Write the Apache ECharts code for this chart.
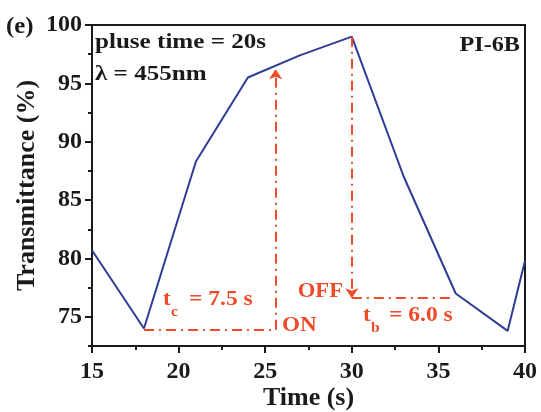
<!DOCTYPE html>
<html><head><meta charset="utf-8">
<script src="https://cdn.jsdelivr.net/npm/echarts@6/dist/echarts.min.js"></script>
<style>html,body{margin:0;padding:0;background:#fff}#c{width:541px;height:412px}</style>
</head><body><div id="c"></div>
<script>
// ---- data ----
const timeS = [15, 18, 21, 24, 27, 30, 33, 36, 39, 40];
const transmittance = [80.7, 74.0, 88.3, 95.5, 97.4, 99.0, 87.0, 77.0, 73.8, 79.8];
const yTickValues = [75, 80, 85, 90, 95, 100];
const yMinorValues = [72.5, 77.5, 82.5, 87.5, 92.5, 97.5];
const xTickValues = [15, 20, 25, 30, 35, 40];
// annotation guide lines (data coordinates)
const onStart = [18, 73.9], onCorner = [25.6, 73.9], onEnd = [25.6, 96.2];
const offStart = [30, 99.0], offCorner = [30, 76.6], offEnd = [35.7, 76.6];

const FONT = '"Liberation Serif", "Times New Roman", serif';
const RED = '#ee4b2b';
const BLUE = '#2e3c94';
const INK = '#1a1a1a';

const chart = echarts.init(document.getElementById('c'), null, {renderer: 'canvas'});
const dashDot = {color: RED, width: 2, type: [10, 5, 2, 5]};

function txt(x, y, s, size, fill, align, sx) {
  return {type: 'text', x: x, y: y, scaleX: sx || 1,
    style: {text: s, font: 'bold ' + size + 'px ' + FONT, fill: fill, textAlign: align || 'left', textVerticalAlign: 'middle'}};
}

const option = {
  animation: false,
  backgroundColor: '#fff',
  grid: {left: 92, right: 16, top: 25, bottom: 66, outerBoundsMode: 'none', containLabel: false,
    show: true, borderColor: INK, borderWidth: 2, backgroundColor: 'transparent'},
  xAxis: [{
    type: 'value', min: 15, max: 40, interval: 5,
    axisLine: {show: true, lineStyle: {color: INK, width: 2}},
    axisTick: {show: true, length: 7, lineStyle: {color: INK, width: 2}, customValues: xTickValues},
    minorTick: {show: true, splitNumber: 2, length: 4, lineStyle: {color: INK, width: 2}},
    splitLine: {show: false},
    axisLabel: {customValues: xTickValues, color: INK, fontFamily: FONT, fontWeight: 'bold', fontSize: 24, margin: 14},
    name: 'Time (s)', nameLocation: 'middle', nameGap: 39, nameMoveOverlap: false,
    nameTextStyle: {color: INK, fontFamily: FONT, fontWeight: 'bold', fontSize: 26}
  }],
  yAxis: [{
    type: 'value', min: 72.5, max: 100,
    axisLine: {show: true, lineStyle: {color: INK, width: 2}},
    axisTick: {show: true, length: 7, lineStyle: {color: INK, width: 2}, customValues: yTickValues},
    splitLine: {show: false},
    axisLabel: {customValues: yTickValues, color: INK, fontFamily: FONT, fontWeight: 'bold', fontSize: 24, margin: 10},
    name: 'Transmittance (%)', nameLocation: 'middle', nameGap: 52, nameMoveOverlap: false,
    nameTextStyle: {color: INK, fontFamily: FONT, fontWeight: 'bold', fontSize: 26}
  }, {
    type: 'value', min: 72.5, max: 100, position: 'left',
    axisLine: {show: false},
    axisTick: {show: true, length: 4, lineStyle: {color: INK, width: 2}, customValues: yMinorValues},
    axisLabel: {show: false, customValues: yMinorValues},
    splitLine: {show: false}
  }],
  series: [{
    type: 'line',
    data: timeS.map((t, i) => [t, transmittance[i]]),
    symbol: 'none',
    lineStyle: {color: BLUE, width: 2},
    clip: true,
    z: 3
  }, {
    type: 'line', data: [], symbol: 'none', z: 4,
    markLine: {
      silent: true, animation: false,
      label: {show: false},
      lineStyle: dashDot,
      symbol: ['none', 'none'],
      data: [
        [{coord: onStart}, {coord: onCorner}],
        [{coord: onCorner, symbol: 'none'}, {coord: onEnd, symbol: 'arrow', symbolSize: 10}],
        [{coord: offStart, symbol: 'none'}, {coord: offCorner, symbol: 'arrow', symbolSize: 10}],
        [{coord: offCorner}, {coord: offEnd}]
      ]
    }
  }],
  graphic: [
    txt(6, 27, '(e)', 23, INK, 'left', 1.08),
    txt(95, 42.5, 'pluse time = 20s', 22, INK, 'left', 1.14),
    txt(95, 74.5, 'λ = 455nm', 22, INK, 'left', 1.14),
    txt(520, 45.5, 'PI-6B', 22, INK, 'right', 1.1),
    txt(163, 299.5, 't', 22, RED, 'left', 1.05),
    txt(171, 312, 'c', 15, RED, 'left', 1.05),
    txt(189, 299.5, '= 7.5 s', 22, RED, 'left', 1.07),
    txt(282, 325.5, 'ON', 22, RED, 'left', 1.05),
    txt(343, 291.5, 'OFF', 22, RED, 'right', 1.03),
    txt(363, 315.5, 't', 22, RED, 'left', 1.05),
    txt(371, 328, 'b', 15, RED, 'left', 1.05),
    txt(389, 315.5, '= 6.0 s', 22, RED, 'left', 1.07)
  ]
};
chart.setOption(option);
</script>
</body></html>
